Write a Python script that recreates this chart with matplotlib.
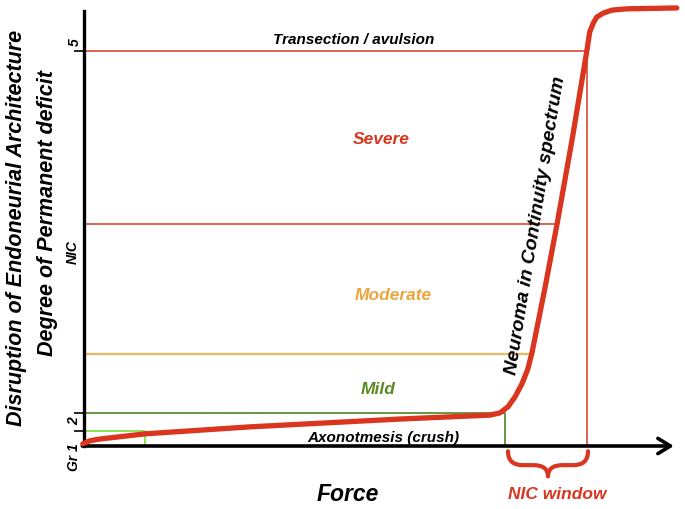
"""
Nerve injury schematic: disruption of endoneurial architecture vs. force,
with the neuroma-in-continuity (NIC) window marked below the force axis.
"""

import matplotlib
matplotlib.use("Agg")
import matplotlib.pyplot as plt
from matplotlib.path import Path
from matplotlib.patches import PathPatch

# ── Data (force 0–100, deficit 0–100) ────────────────────────────
force   = [-0.2, 1.0, 2.7, 10.5, 28.4, 54.1, 69.5, 71.2, 72.6, 73.8, 75.0,
           76.0, 76.7, 78.9, 81.0, 83.6, 86.1, 86.6, 87.2, 87.8, 88.9,
           90.4, 93.0, 101.5]
deficit = [0.5, 1.2, 1.6, 2.8, 4.4, 6.2, 7.1, 7.6, 9.0, 11.3, 14.3,
           17.7, 21.4, 36.1, 51.0, 70.6, 90.8, 95.2, 97.2, 98.6, 99.5,
           100.2, 100.5, 100.7]

# grade boundaries (deficit level, end force where it meets the curve)
grade1      = (3.4, 10.4)
grade2      = (7.6, 72.1)
mild_top    = (21.2, 76.7)
severe_low  = (51.0, 81.0)
grade5      = (90.8, 86.1)
nic_window  = [72.6, 86.3]

tick_levels = [grade5[0], grade2[0], grade1[0]]

FONT = "Liberation Sans"
RED    = "#D9351F"
LRED   = "#D94A33"
ORANGE = "#EDB566"
GREEN  = "#5B9130"
LGREEN = "#84E048"

fig = plt.figure(figsize=(6.85, 5.1), dpi=100)
ax = fig.add_axes([84 / 685, 63 / 510, 584 / 685, 435 / 510])
ax.set_xlim(0, 100)
ax.set_ylim(0, 100)

# ── Axes ─────────────────────────────────────────────────────────
for s in ["top", "right", "bottom"]:
    ax.spines[s].set_visible(False)
ax.spines["left"].set_linewidth(2.4)
ax.set_xticks([])
ax.set_yticks(tick_levels)
ax.set_yticklabels([])
ax.tick_params(axis="y", direction="out", length=7, width=1.2)
ax.annotate("", xy=(101.0, 0), xytext=(-0.3, 0), annotation_clip=False,
            arrowprops=dict(arrowstyle="->,head_length=0.9,head_width=0.55",
                            lw=2.6, color="black", shrinkA=0, shrinkB=0))

# ── Grade lines ──────────────────────────────────────────────────
ax.plot([0, grade5[1]], [grade5[0]] * 2, color=LRED, lw=1.2)
ax.plot([grade5[1]] * 2, [0, grade5[0]], color=LRED, lw=1.2)
ax.plot([0, severe_low[1]], [severe_low[0]] * 2, color=LRED, lw=1.2)
ax.plot([0, mild_top[1]], [mild_top[0]] * 2, color=ORANGE, lw=1.6)
ax.plot([0, grade2[1], grade2[1]], [grade2[0], grade2[0], 0], color=GREEN, lw=1.3)
ax.plot([0, grade1[1], grade1[1]], [grade1[0], grade1[0], 0], color=LGREEN, lw=1.3)

# ── Curve ────────────────────────────────────────────────────────
ax.plot(force, deficit, color=RED, lw=3.8, solid_capstyle="round",
        solid_joinstyle="round", clip_on=False, zorder=5)

# ── NIC window brace ─────────────────────────────────────────────
x0, x1 = nic_window
xc = (x0 + x1) / 2
top, mid, bot = -1.2, -4.4, -7.0
r = 2.5
verts = [(x0, top), (x0, mid), (x0 + r, mid),
         (xc - r, mid),
         (xc, mid), (xc, bot),
         (xc, mid), (xc + r, mid),
         (x1 - r, mid),
         (x1, mid), (x1, top)]
codes = [Path.MOVETO, Path.CURVE3, Path.CURVE3,
         Path.LINETO,
         Path.CURVE3, Path.CURVE3,
         Path.CURVE3, Path.CURVE3,
         Path.LINETO,
         Path.CURVE3, Path.CURVE3]
ax.add_patch(PathPatch(Path(verts, codes), fill=False, edgecolor=RED, lw=3.0,
                       capstyle="round", joinstyle="round", clip_on=False))

# ── Text ─────────────────────────────────────────────────────────
kw = dict(family=FONT, weight="bold", style="italic", ha="center", va="center",
          clip_on=False)
ax.text(46.2, 93.6, "Transection / avulsion", fontsize=11, color="black", **kw)
ax.text(50.9, 70.8, "Severe", fontsize=12.5, color=RED, **kw)
ax.text(52.9, 34.9, "Moderate", fontsize=12.5, color="#E8A640", **kw)
ax.text(50.3, 13.3, "Mild", fontsize=12.5, color="#5A8A26", **kw)
ax.text(51.2, 2.1, "Axonotmesis (crush)", fontsize=11, color="black", **kw)
ax.text(77.3, 51.0, "Neuroma in Continuity spectrum", fontsize=14,
        color="black", rotation=80.8, **kw)
ax.text(45.2, -11.0, "Force", fontsize=16.5, color="black", **kw)
ax.text(81.0, -11.0, "NIC window", fontsize=12.5, color=RED, **kw)

ax.text(-1.6, 93.1, "5", fontsize=10, rotation=90, **kw)
ax.text(-1.7, 6.0, "2", fontsize=10, rotation=90, **kw)
ax.text(-1.7, -2.3, "Gr 1", fontsize=10, rotation=90, **kw)
ax.text(-2.0, 44.8, "NIC", fontsize=10, rotation=90, **kw)

ax.text(-11.5, 50.3, "Disruption of Endoneurial Architecture", fontsize=15.5,
        rotation=90, **kw)
ax.text(-6.3, 53.8, "Degree of Permanent deficit", fontsize=15.5,
        rotation=90, **kw)

fig.savefig("out.png", dpi=100)
